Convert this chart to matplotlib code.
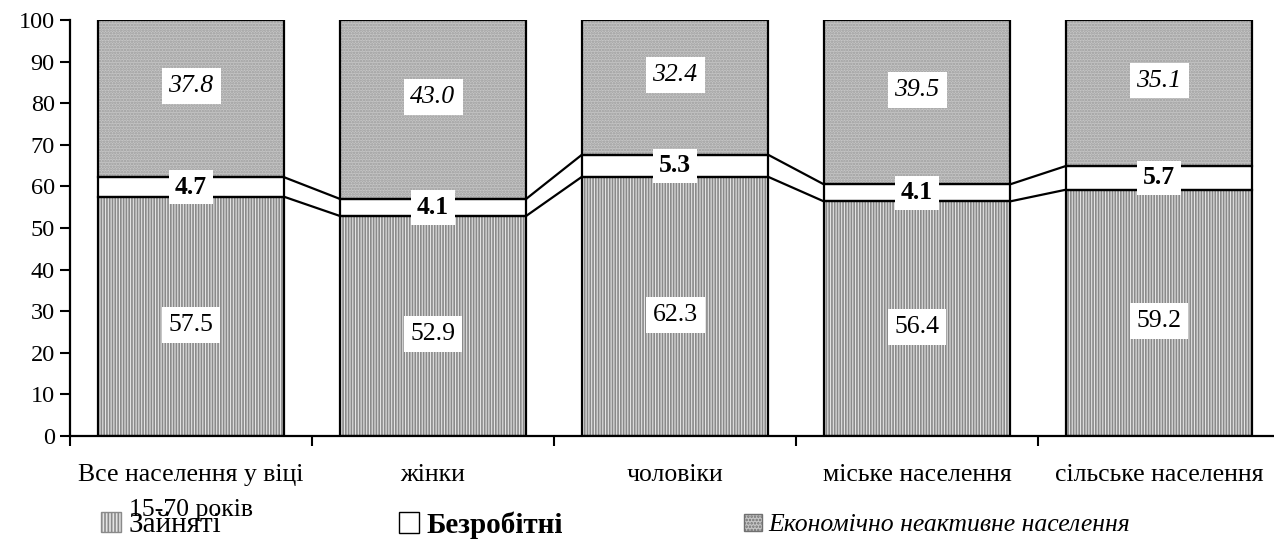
import numpy as np
import matplotlib.pyplot as plt
from matplotlib.patches import Patch

plt.rcParams['font.family'] = ['Liberation Serif', 'DejaVu Serif']
plt.rcParams['hatch.linewidth'] = 1.2

categories = ["Все населення у віці\n15-70 років", "жінки", "чоловіки",
              "міське населення", "сільське населення"]
employed = [57.5, 52.9, 62.3, 56.4, 59.2]
unemployed = [4.7, 4.1, 5.3, 4.1, 5.7]
inactive = [37.8, 43.0, 32.4, 39.5, 35.1]
seriesNames = ["Зайняті", "Безробітні", "Економічно неактивне населення"]

x = np.arange(len(categories))
w = 0.77
emp = np.array(employed)
une = np.array(unemployed)
ina = np.array(inactive)
cum1 = emp
cum2 = emp + une

empFace, empHatch = "#e4e4e4", "#8a8a8a"
inaFace, inaHatch = "#c6c6c6", "#9c9c9c"

fig = plt.figure(figsize=(12.74, 5.4), dpi=100)
ax = fig.add_axes([70 / 1274, 104 / 540, 1210 / 1274, 416 / 540])

# fills with texture, then black outlines on top
ax.bar(x, emp, width=w, color=empFace, edgecolor=empHatch, hatch="||||||", linewidth=0)
ax.bar(x, une, width=w, bottom=cum1, color="white", linewidth=0)
ax.bar(x, ina, width=w, bottom=cum2, color=inaFace, edgecolor=inaHatch, hatch="......", linewidth=0)
for vals, bot in [(emp, 0), (une, cum1), (ina, cum2)]:
    ax.bar(x, vals, width=w, bottom=bot, fill=False, edgecolor="black", linewidth=1.6)

# series lines between bars
for i in range(len(x) - 1):
    for c in (cum1, cum2):
        ax.plot([x[i] + w / 2, x[i + 1] - w / 2], [c[i], c[i + 1]], color="black", lw=1.6)

box = dict(facecolor="white", edgecolor="none", pad=5)
for i in range(len(x)):
    ax.text(x[i], emp[i] / 2 - 2, f"{emp[i]:.1f}", ha="center", va="center", fontsize=18.5, bbox=box)
    ax.text(x[i], cum1[i] + une[i] / 2, f"{une[i]:.1f}", ha="center", va="center",
            fontsize=18.5, fontweight="bold", bbox=dict(facecolor="white", edgecolor="none", pad=4))
    ax.text(x[i], cum2[i] + ina[i] / 2 + 3, f"{ina[i]:.1f}", ha="center", va="center",
            fontsize=18.5, fontstyle="italic", bbox=box)

ax.set_xlim(-0.5, len(x) - 0.5)
ax.set_ylim(0, 100)
ax.set_yticks(np.arange(0, 101, 10))
ax.set_xticks(x)
ax.set_xticklabels(categories, fontsize=18.5, linespacing=1.8)
ax.set_xticks(np.arange(-0.5, len(x), 1), minor=True)
ax.tick_params(axis="x", which="major", length=0, pad=20)
ax.tick_params(axis="x", which="minor", length=7, width=1.5, direction="out")
ax.tick_params(axis="y", length=7, width=1.5, direction="out", labelsize=17.5, pad=4)
for s in ["top", "right"]:
    ax.spines[s].set_visible(False)
for s in ["left", "bottom"]:
    ax.spines[s].set_linewidth(1.6)

# legend entries placed individually
handles = [Patch(facecolor=empFace, edgecolor=empHatch, hatch="|||||"),
           Patch(facecolor="white", edgecolor="black"),
           Patch(facecolor=inaFace, edgecolor="#707070", hatch=".....")]
styles = [dict(size=21), dict(size=21, weight="bold"), dict(size=18.5, style="italic")]
xpos = [101 / 1274, 399 / 1274, 744 / 1274]
for h, name, st, xp in zip(handles, seriesNames, styles, xpos):
    fig.legend([h], [name], loc="center left", bbox_to_anchor=(xp, 15 / 540),
               frameon=False, handlelength=0.7, handleheight=0.7, handletextpad=0.25,
               borderaxespad=0, borderpad=0, prop=st)

fig.savefig("out.png", dpi=100)
